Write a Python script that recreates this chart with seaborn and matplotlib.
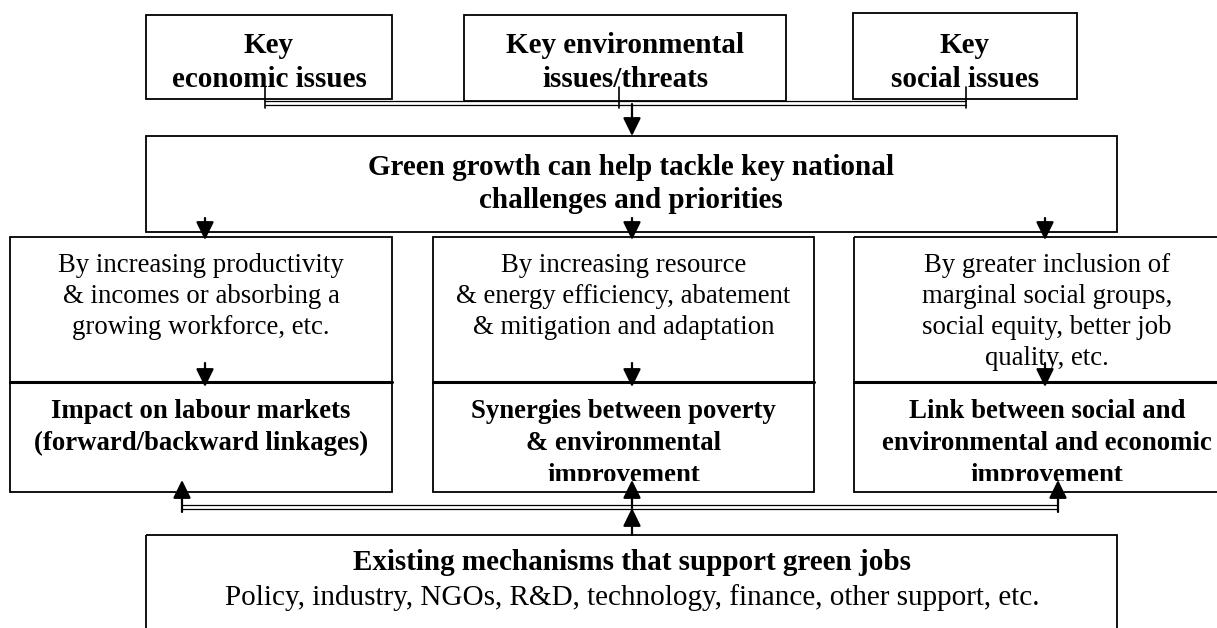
import matplotlib
matplotlib.use("Agg")
import matplotlib.pyplot as plt
import seaborn as sns
from matplotlib.patches import Rectangle
from matplotlib.transforms import Bbox, TransformedBbox

# labels
top_labels = ["Key\neconomic issues", "Key environmental\nissues/threats", "Key\nsocial issues"]
center_label = "Green growth can help tackle key national\nchallenges and priorities"
means_labels = [
    "By increasing productivity\n& incomes or absorbing a\ngrowing workforce, etc.",
    "By increasing resource\n& energy efficiency, abatement\n& mitigation and adaptation",
    "By greater inclusion of\nmarginal social groups,\nsocial equity, better job\nquality, etc.",
]
impact_labels = [
    "Impact on labour markets\n(forward/backward linkages)",
    "Synergies between poverty\n& environmental\nimprovement",
    "Link between social and\nenvironmental and economic\nimprovement",
]
bottom_title = "Existing mechanisms that support green jobs"
bottom_sub = "Policy, industry, NGOs, R&D, technology, finance, other support, etc."

# layout (pixels, y downwards)
top_boxes = [(146, 15, 392, 99), (464, 15, 786, 101), (853, 13, 1077, 99)]
center_box = (146, 136, 1117, 232)
col_boxes = [(10, 237, 392, 492), (433, 237, 814, 492), (854, 237, 1240, 492)]
divider_y = 382
bottom_box = (146, 535, 1117, 660)
col_x = [205, 632, 1045]

sns.set_theme(style="white")
plt.rcParams["font.family"] = ["Liberation Serif", "DejaVu Serif"]
plt.rcParams["text.color"] = "black"

fig = plt.figure(figsize=(12.17, 6.28), dpi=100)
ax = fig.add_axes([0, 0, 1, 1])
ax.set_xlim(0, 1217)
ax.set_ylim(628, 0)
ax.axis("off")

fs_big = 21
fs_col = 19.3
lw = 1.3


def box(b, lw=lw):
    x0, y0, x1, y1 = b
    ax.add_patch(Rectangle((x0, y0), x1 - x0, y1 - y0, fill=False, ec="black", lw=lw, zorder=2))


def arrow(x, y0, y1):
    ax.annotate("", xy=(x, y1), xytext=(x, y0),
                arrowprops=dict(arrowstyle="-|>,head_length=0.55,head_width=0.27",
                                mutation_scale=20, lw=1.6, color="black",
                                shrinkA=0, shrinkB=0), zorder=4)


def dline(x0, x1, y):
    ax.plot([x0, x1], [y - 1.6, y - 1.6], color="black", lw=0.9, zorder=3)
    ax.plot([x0, x1], [y + 1.6, y + 1.6], color="black", lw=0.9, zorder=3)


def lines(x, y0, step, label, fs, weight="normal", clip=None):
    for i, s in enumerate(label.split("\n")):
        t = ax.text(x, y0 + i * step, s, ha="center", va="baseline", fontsize=fs,
                    fontweight=weight, zorder=3)
        if clip is not None:
            t.set_clip_box(clip)
            t.set_clip_on(True)


# top row
for b, lab in zip(top_boxes, top_labels):
    box(b)
    lines((b[0] + b[2]) / 2, 53, 34, lab, fs_big, "bold")

dline(265, 966, 103)
for x in [265, 619, 966]:
    ax.plot([x, x], [87, 108], color="black", lw=1.2, zorder=3)
arrow(632, 104, 136)

# centre box
box(center_box)
lines(631, 175, 33, center_label, fs_big, "bold")

# columns
for b, x, m, im in zip(col_boxes, col_x, means_labels, impact_labels):
    box(b)
    ax.plot([b[0], b[2]], [divider_y, divider_y], color="black", lw=2.2, zorder=3)
    cx = (b[0] + b[2]) / 2
    lines(cx, 272, 31, m, fs_col)
    clip = TransformedBbox(Bbox([[b[0], divider_y], [b[2], 481]]), ax.transData)
    lines(cx, 418, 32, im, fs_col, "bold", clip=clip)
    arrow(x, 218, 240)
    arrow(x, 363, 387)

# bottom connectors
dline(182, 1058, 507)
arrow(182, 512, 480)
arrow(1058, 512, 480)
arrow(632, 535, 508)
arrow(632, 508, 480)

# bottom box
box(bottom_box)
lines(632, 570, 35, bottom_title, fs_big, "bold")
lines(632, 605, 35, bottom_sub, fs_big)

fig.savefig("out.png", dpi=100)
